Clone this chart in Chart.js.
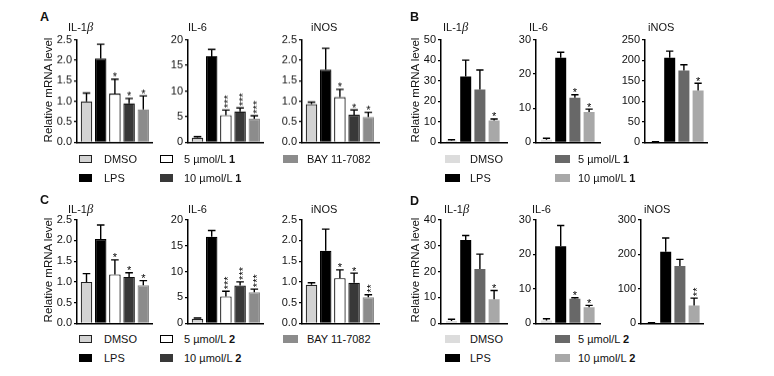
<!DOCTYPE html>
<html><head><meta charset="utf-8">
<script src="https://cdn.jsdelivr.net/npm/chart.js@4.4.1/dist/chart.umd.min.js"></script>
<style>
html,body{margin:0;padding:0;background:#fff}
body{width:774px;height:376px;position:relative;overflow:hidden;font-family:"Liberation Sans",Arial,sans-serif;color:#111}
.t{position:absolute;white-space:nowrap;line-height:14px;color:#111;z-index:3}
canvas{position:absolute;z-index:1}
.sw{position:absolute;box-sizing:border-box;z-index:3}
</style></head><body>
<script>
// ---------- data ----------
const genes = ['IL-1β', 'IL-6', 'iNOS'];
const groupsA = ['DMSO', 'LPS', '5 µmol/L 1', '10 µmol/L 1', 'BAY 11-7082'];
const groupsB = ['DMSO', 'LPS', '5 µmol/L 1', '10 µmol/L 1'];
const groupsC = ['DMSO', 'LPS', '5 µmol/L 2', '10 µmol/L 2', 'BAY 11-7082'];
const groupsD = ['DMSO', 'LPS', '5 µmol/L 2', '10 µmol/L 2'];

const aIL1b = [1.00, 2.04, 1.19, 0.95, 0.80];
const aIL1bErr = [0.20, 0.35, 0.35, 0.12, 0.33];
const aIL1bSig = ['', '', '*', '*', '*'];
const aIL6 = [0.9, 16.8, 5.3, 6.0, 4.6];
const aIL6Err = [0.2, 1.3, 1.0, 0.7, 0.6];
const aIL6Sig = ['', '', '***', '***', '***'];
const aINOS = [0.93, 1.77, 1.10, 0.67, 0.62];
const aINOSErr = [0.05, 0.52, 0.19, 0.12, 0.11];
const aINOSSig = ['', '', '*', '*', '*'];

const bIL1b = [0.8, 32.0, 25.7, 10.7];
const bIL1bErr = [0.5, 8.0, 9.5, 0.7];
const bIL1bSig = ['', '', '', '*'];
const bIL6 = [0.8, 24.7, 13.0, 8.9];
const bIL6Err = [0.4, 1.6, 0.9, 0.8];
const bIL6Sig = ['', '', '*', '*'];
const bINOS = [1.5, 206, 175, 126];
const bINOSErr = [0.5, 16, 14, 18];
const bINOSSig = ['', '', '', '*'];

const cIL1b = [1.00, 2.03, 1.18, 1.12, 0.92];
const cIL1bErr = [0.20, 0.34, 0.35, 0.10, 0.11];
const cIL1bSig = ['', '', '*', '*', '*'];
const cIL6 = [0.9, 16.7, 5.2, 7.3, 6.0];
const cIL6Err = [0.15, 1.2, 1.0, 0.7, 0.6];
const cIL6Sig = ['', '', '***', '***', '***'];
const cINOS = [0.93, 1.75, 1.09, 0.98, 0.63];
const cINOSErr = [0.05, 0.52, 0.20, 0.23, 0.06];
const cINOSSig = ['', '', '*', '*', '**'];

const dIL1b = [0.9, 32.1, 21.0, 9.3];
const dIL1bErr = [0.7, 1.8, 5.7, 3.4];
const dIL1bSig = ['', '', '', '*'];
const dIL6 = [0.86, 22.3, 7.1, 4.7];
const dIL6Err = [0.5, 6.0, 0.3, 0.5];
const dIL6Sig = ['', '', '*', '*'];
const dINOS = [1.0, 207, 166, 52];
const dINOSErr = [1.0, 40, 19, 21];
const dINOSSig = ['', '', '', '**'];

// y-axis tick settings: [max, step, decimals]
const yTicksAC = [[2.5, 0.5, 1], [20, 5, 0], [2.5, 0.5, 1]];
const yTicksB = [[50, 10, 0], [30, 10, 0], [250, 50, 0]];
const yTicksD = [[40, 10, 0], [30, 10, 0], [300, 100, 0]];

// ---------- styles / layout ----------
const fillAC = ['#d3d3d3', '#000000', '#ffffff', '#383838', '#8c8c8c'];
const edgeAC = ['#222222', '#000000', '#000000', '#111111', '#8c8c8c'];
const fillBD = ['#dcdcdc', '#000000', '#686868', '#a8a8a8'];
const axesAC = [[77, 152], [188, 263], [302, 379]];
const axesB = [[441, 507], [536, 600], [645, 707]];
const axesD = [[441, 507], [536, 600], [641, 703]];
const titleXAC = [68, 188, 311];
const titleXB = [443, 529, 648];
const titleXD = [444, 532, 644];

Chart.defaults.font.family = "'Liberation Sans', Arial, sans-serif";
Chart.defaults.color = '#111';

const PITCH = 14.2, PT = 8, PR = 4, XH = 8, YW = 34;

function addText(x, y, html, size, extra) {
  const d = document.createElement('div');
  d.className = 't';
  d.style.left = x + 'px';
  d.style.top = (y - 7) + 'px';
  d.style.fontSize = size + 'px';
  if (extra) Object.assign(d.style, extra);
  d.innerHTML = html;
  document.body.appendChild(d);
  return d;
}

function errPlugin(errs, sigs) {
  return {
    id: 'errbars',
    afterDatasetsDraw(chart) {
      const ctx = chart.ctx, meta = chart.getDatasetMeta(0), ys = chart.scales.y;
      const data = chart.data.datasets[0].data;
      ctx.save();
      ctx.strokeStyle = '#000'; ctx.fillStyle = '#000'; ctx.lineWidth = 1.4;
      meta.data.forEach((bar, i) => {
        const top = ys.getPixelForValue(data[i].y + errs[i]);
        const cap = bar.width * 0.33;
        ctx.beginPath();
        ctx.moveTo(bar.x, bar.y); ctx.lineTo(bar.x, top);
        ctx.moveTo(bar.x - cap, top); ctx.lineTo(bar.x + cap, top);
        ctx.stroke();
        const s = sigs[i];
        if (s) {
          ctx.font = "11px 'Liberation Sans', Arial, sans-serif";
          if (s.length === 1) {
            ctx.textAlign = 'center'; ctx.textBaseline = 'alphabetic';
            ctx.fillText(s, bar.x, top + 1.5);
          } else {
            ctx.save();
            ctx.translate(bar.x, top - 2);
            ctx.rotate(-Math.PI / 2);
            ctx.textAlign = 'left'; ctx.textBaseline = 'alphabetic';
            ctx.fillText(s, 0, 6.4);
            ctx.restore();
          }
        }
      });
      ctx.restore();
    }
  };
}

function makeChart(ax, yTop, yZero, labels, values, errs, sigs, fills, edges, bw, tk, firstOff, frac) {
  const [x0, x1] = ax;
  const cv = document.createElement('canvas');
  const w = YW + (x1 - x0) + PR, h = PT + (yZero - yTop) + XH;
  cv.width = w; cv.height = h;
  cv.style.left = (x0 - YW) + 'px';
  cv.style.top = (yTop - PT) + 'px';
  cv.style.width = w + 'px'; cv.style.height = h + 'px';
  document.body.appendChild(cv);
  const xmin = -firstOff / PITCH;
  const xmax = xmin + (x1 - x0) / PITCH;
  new Chart(cv, {
    type: 'bar',
    data: {
      labels: labels,
      datasets: [{
        data: values.map((v, i) => ({ x: i, y: v })),
        backgroundColor: fills,
        borderColor: edges,
        borderWidth: bw,
        borderSkipped: 'start',
        categoryPercentage: frac,
        barPercentage: frac
      }]
    },
    options: {
      responsive: false, animation: false, devicePixelRatio: 1,
      layout: { padding: { top: PT, right: PR, left: 0, bottom: 0 } },
      plugins: { legend: { display: false }, tooltip: { enabled: false }, title: { display: false } },
      scales: {
        x: {
          type: 'linear', min: xmin, max: xmax, offset: false,
          grid: { display: false },
          ticks: { display: false },
          border: { display: true, color: '#000', width: 1.5 },
          afterFit: s => { s.height = XH; }
        },
        y: {
          min: 0, max: tk[0],
          ticks: {
            stepSize: tk[1], padding: 2, color: '#111',
            font: { size: 11 },
            callback: v => Number(v).toFixed(tk[2])
          },
          grid: { display: true, drawOnChartArea: false, drawTicks: true, tickLength: 3, color: '#000', lineWidth: 1.2 },
          border: { display: true, color: '#000', width: 1.5 },
          afterFit: s => { s.width = YW; }
        }
      }
    },
    plugins: [errPlugin(errs, sigs)]
  });
}

function panel(letter, lx, ly, titleY, titleXs, axes, yTop, yZero, ylabX, ylabY, groups, sets, tks, fills, edges, bw, firstOff, frac) {
  addText(lx, ly, letter, 12.5, { fontWeight: 'bold' });
  genes.forEach((g, k) => {
    const html = g === 'IL-1β' ? 'IL-1<i style="font-family:\'Liberation Serif\',serif;font-size:12.5px">β</i>' : g;
    addText(titleXs[k], titleY, html, 11);
    makeChart(axes[k], yTop, yZero, groups, sets[k][0], sets[k][1], sets[k][2], fills, edges, bw, tks[k], firstOff, frac);
  });
  const yl = document.createElement('div');
  yl.className = 't';
  yl.style.fontSize = '11.5px';
  yl.style.left = ylabX + 'px';
  yl.style.top = ylabY + 'px';
  yl.style.transform = 'translate(-50%,-50%) rotate(-90deg)';
  yl.textContent = 'Relative mRNA level';
  document.body.appendChild(yl);
}

function legendItem(sx, y, sw, sh, fill, border, tx, html) {
  const s = document.createElement('div');
  s.className = 'sw';
  s.style.left = sx + 'px'; s.style.top = (y - sh / 2) + 'px';
  s.style.width = sw + 'px'; s.style.height = sh + 'px';
  s.style.background = fill;
  if (border) s.style.border = '1.5px solid ' + border;
  document.body.appendChild(s);
  addText(tx, y, html, 11);
}

function groupHtml(g) {
  const m = g.match(/^(.*µmol\/L) (\d)$/);
  return m ? m[1] + ' <b>' + m[2] + '</b>' : g;
}

function legendAC(groups, r1, r2) {
  const pos = [[79, r1, 104], [79, r2, 104], [160, r1, 184], [160, r2, 184], [283, r1, 307]];
  const bord = ['#222', null, '#000', null, null];
  groups.forEach((g, i) => legendItem(pos[i][0], pos[i][1], i === 4 ? 15 : 13, 8, fillAC[i], bord[i], pos[i][2], groupHtml(g)));
}
function legendBD(groups, r1, r2) {
  const pos = [[445, r1, 470], [445, r2, 470], [555, r1, 578], [555, r2, 578]];
  groups.forEach((g, i) => legendItem(pos[i][0], pos[i][1], 15, 8, fillBD[i], null, pos[i][2], groupHtml(g)));
}

panel('A', 40, 17, 27, titleXAC, axesAC, 38.7, 142.7, 48, 90, groupsA,
  [[aIL1b, aIL1bErr, aIL1bSig], [aIL6, aIL6Err, aIL6Sig], [aINOS, aINOSErr, aINOSSig]],
  yTicksAC, fillAC, edgeAC, 1.2, 9.5, 0.9);
panel('B', 410, 17, 27, titleXB, axesB, 38.5, 142.5, 415, 90, groupsB,
  [[bIL1b, bIL1bErr, bIL1bSig], [bIL6, bIL6Err, bIL6Sig], [bINOS, bINOSErr, bINOSSig]],
  yTicksB, fillBD, fillBD, 0, 10.5, 0.88);
panel('C', 40, 200, 209, titleXAC, axesAC, 219, 324, 48, 270, groupsC,
  [[cIL1b, cIL1bErr, cIL1bSig], [cIL6, cIL6Err, cIL6Sig], [cINOS, cINOSErr, cINOSSig]],
  yTicksAC, fillAC, edgeAC, 1.2, 9.5, 0.9);
panel('D', 410, 201, 209, titleXD, axesD, 218.5, 323.5, 415, 270, groupsD,
  [[dIL1b, dIL1bErr, dIL1bSig], [dIL6, dIL6Err, dIL6Sig], [dINOS, dINOSErr, dINOSSig]],
  yTicksD, fillBD, fillBD, 0, 10.5, 0.88);

legendAC(groupsA, 159, 178);
legendBD(groupsB, 159, 178);
legendAC(groupsC, 339, 358);
legendBD(groupsD, 339, 358);
</script>
</body></html>
